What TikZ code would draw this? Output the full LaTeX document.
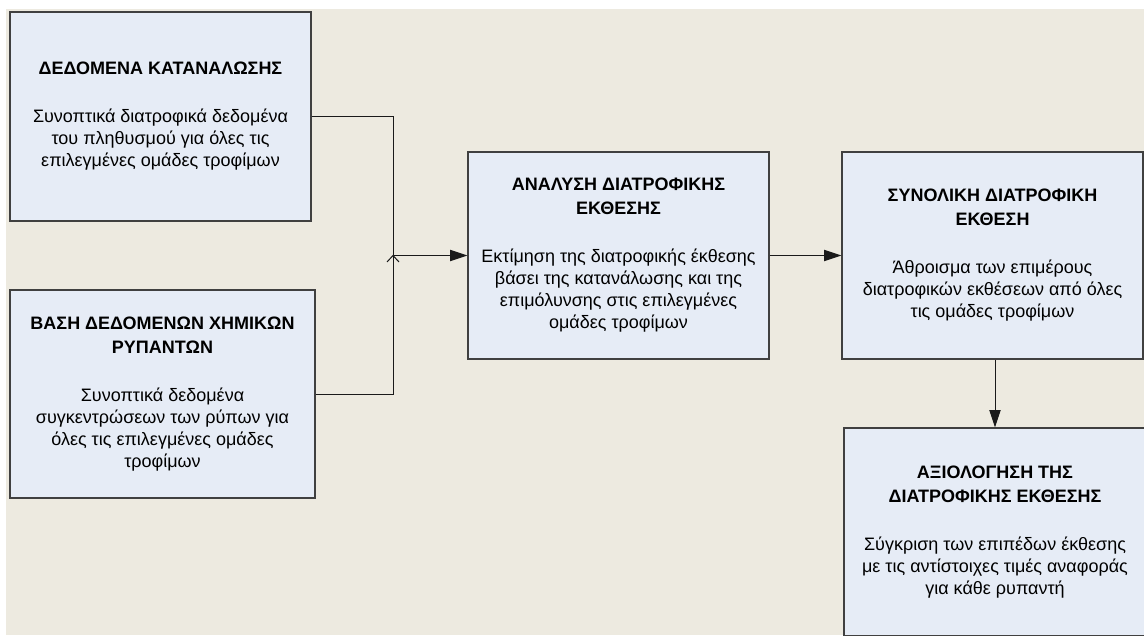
\documentclass[tikz,border=0pt]{standalone}
\usepackage{fontspec}
\setmainfont{Liberation Sans}
\usetikzlibrary{arrows.meta}
\definecolor{bgbeige}{HTML}{EDEAE0}
\definecolor{boxfill}{HTML}{E6ECF6}
\definecolor{boxline}{HTML}{404040}
\definecolor{wirecol}{HTML}{1A1A1A}
\begin{document}
\begin{tikzpicture}[x=0.75pt,y=-0.75pt,
  box/.style={draw=boxline, line width=1pt, fill=boxfill, inner sep=0pt,
    align=center, font=\fontsize{13.5}{16.5}\selectfont},
  wire/.style={draw=wirecol, line width=0.75pt},
  arr/.style={wire, -{Triangle[length=13pt,width=8.5pt]}}]
\useasboundingbox (0,0) rectangle (1144,635);
\clip (0,0) rectangle (1144,635);
\fill[bgbeige] (6,9) rectangle (1144,635);

\node[box, minimum width=225.75pt, minimum height=156.75pt] (b1) at (160.5,116.5)
  {\textbf{ΔΕΔΟΜΕΝΑ ΚΑΤΑΝΑΛΩΣΗΣ}\\[19.5pt]
   Συνοπτικά διατροφικά δεδομένα\\
   του πληθυσμού για όλες τις\\
   επιλεγμένες ομάδες τροφίμων};

\node[box, minimum width=228.75pt, minimum height=156pt] (b2) at (162.5,394)
  {\textbf{ΒΑΣΗ ΔΕΔΟΜΕΝΩΝ ΧΗΜΙΚΩΝ}\\[1.5pt]
   \textbf{ΡΥΠΑΝΤΩΝ}\\[19.5pt]
   Συνοπτικά δεδομένα\\
   συγκεντρώσεων των ρύπων για\\
   όλες τις επιλεγμένες ομάδες\\
   τροφίμων};

\node[box, minimum width=225.75pt, minimum height=155.25pt] (b3) at (618.5,255.5)
  {\textbf{ΑΝΑΛΥΣΗ ΔΙΑΤΡΟΦΙΚΗΣ}\\[1.5pt]
   \textbf{ΕΚΘΕΣΗΣ}\\[19.5pt]
   Εκτίμηση της διατροφικής έκθεσης\\
   βάσει της κατανάλωσης και της\\
   επιμόλυνσης στις επιλεγμένες\\
   ομάδες τροφίμων};

\node[box, minimum width=225.75pt, minimum height=155.25pt] (b4) at (992.5,255.5)
  {\textbf{ΣΥΝΟΛΙΚΗ ΔΙΑΤΡΟΦΙΚΗ}\\[1.5pt]
   \textbf{ΕΚΘΕΣΗ}\\[19.5pt]
   Άθροισμα των επιμέρους\\
   διατροφικών εκθέσεων από όλες\\
   τις ομάδες τροφίμων};

\node[box, minimum width=226.5pt, minimum height=156pt] (b5) at (995,532)
  {\textbf{ΑΞΙΟΛΟΓΗΣΗ ΤΗΣ}\\[1.5pt]
   \textbf{ΔΙΑΤΡΟΦΙΚΗΣ ΕΚΘΕΣΗΣ}\\[19.5pt]
   Σύγκριση των επιπέδων έκθεσης\\
   με τις αντίστοιχες τιμές αναφοράς\\
   για κάθε ρυπαντή};

\coordinate (j) at (393,255.5);
\draw[wire] (b1.east) -| (j);
\draw[wire] (b2.east) -| (j);
\draw[wire] (j) ++(-6,6.5) -- (j) -- ++(6,6.5);
\draw[arr] (j) -- (b3.west);
\draw[arr] (b3.east) -- (b4.west);
\draw[arr] (b5.north |- b4.south) -- (b5.north);
\end{tikzpicture}
\end{document}
